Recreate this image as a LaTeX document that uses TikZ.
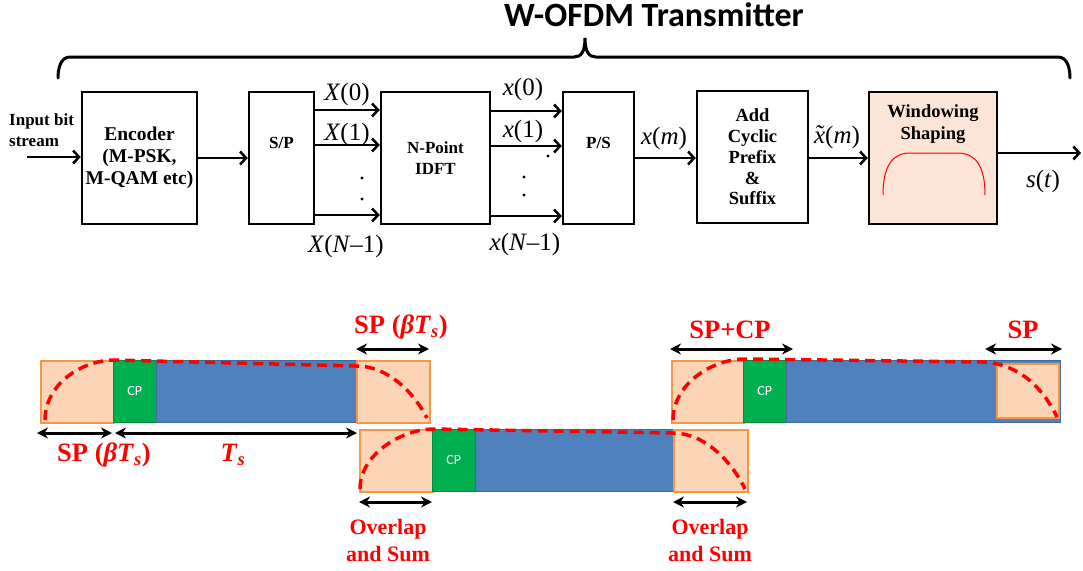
\documentclass[tikz,border=0pt]{standalone}
\usepackage{fontspec}
\setmainfont{Liberation Serif}[BoldFont={Liberation Serif Bold}, ItalicFont={Liberation Serif Italic}, BoldItalicFont={Liberation Serif Bold Italic}]
\newfontfamily\calfont{Carlito}[BoldFont={Carlito Bold}]
\usetikzlibrary{arrows.meta,calc}
\definecolor{peach}{RGB}{251,213,181}
\definecolor{winfill}{RGB}{252,228,214}
\definecolor{orangeb}{RGB}{247,150,70}
\definecolor{cpgreen}{RGB}{0,176,80}
\definecolor{sblue}{RGB}{79,129,189}
\definecolor{sblueb}{RGB}{65,105,155}
\definecolor{wred}{RGB}{255,0,0}
\newcommand\xtil{\ooalign{\textit{x}\cr\hidewidth\raisebox{0.02em}{\textit{\symbol{"02DC}}}\hidewidth\cr}}
\tikzset{
  blk/.style={draw=black, line width=2.5pt, minimum height=132pt, inner sep=0pt, align=center,
              font=\fontsize{17}{21}\selectfont\bfseries},
  btxt/.style={align=center, inner sep=0pt, font=\fontsize{17}{21}\selectfont\bfseries},
  arr/.style={line width=2.5pt, -{Straight Barb[length=6pt,width=13pt,line width=2.5pt]}},
  mlbl/.style={inner sep=0pt, font=\fontsize{25}{28}\selectfont},
  peachbox/.style={fill=peach, draw=orangeb, line width=1.5pt, inner sep=0pt},
  cpbox/.style={fill=cpgreen, draw=cpgreen!80!black, line width=0.6pt, inner sep=0pt,
                text=white, font=\calfont\fontsize{14}{16}\selectfont},
  bluebox/.style={fill=sblue, draw=sblueb, line width=0.8pt, inner sep=0pt},
  wdash/.style={draw=wred, line width=3.5pt, dash pattern=on 10pt off 6pt},
  dimarr/.style={line width=3pt, {Stealth[length=11pt,width=11pt]}-{Stealth[length=11pt,width=11pt]}},
  rlbl/.style={text=wred, inner sep=0pt, align=center, font=\fontsize{26.5}{28}\selectfont\bfseries},
  olbl/.style={text=wred, inner sep=0pt, align=center, font=\fontsize{22}{27}\selectfont\bfseries},
}
\begin{document}
\begin{tikzpicture}[x=1pt,y=-1pt]
\useasboundingbox (0,0) rectangle (1083,570);

% ---------- title and brace ----------
\node[inner sep=0pt, anchor=base, font=\calfont\fontsize{34}{36}\selectfont\bfseries] (title) at (654,27) {W-OFDM Transmitter};
\draw[line width=3pt, line cap=round] (58,78) to[out=90,in=180] (70,57) -- (574,57)
  .. controls (581,57) and (585,52) .. (585,38)
  .. controls (585,52) and (589,57) .. (596,57) -- (1058,57) to[out=0,in=90] (1070,78);

% ---------- blocks ----------
\node[blk, minimum width=115pt, font=\fontsize{19.5}{22}\selectfont\bfseries] (enc) at (139.5,158) {Encoder\\(M-PSK,\\M-QAM etc)};
\node[blk, minimum width=65pt] (sp) at (281.5,158) {};
\node[btxt] (sptxt) at (281.5,143) {S/P};
\node[blk, minimum width=109pt] (idft) at (435.5,158) {N-Point\\IDFT};
\node[blk, minimum width=71pt] (ps) at (598.5,158) {};
\node[btxt] (pstxt) at (598.5,143) {P/S};
\node[blk, minimum width=111pt, font=\fontsize{18.5}{20.8}\selectfont\bfseries] (acp) at (752.5,157) {Add\\Cyclic\\Prefix\\\&\\Suffix};
\node[blk, minimum width=128pt, fill=winfill] (win) at (933,158) {};
\node[btxt, font=\fontsize{18.5}{22}\selectfont\bfseries] (wintxt) at (933,124) {Windowing\\Shaping};
\draw[wred, line width=1pt] (883,195) .. controls (883,165) and (893,153) .. (910,153) -- (957,153)
  .. controls (975,153) and (985,165) .. (985,195);

% input
\node[btxt, align=left, anchor=west] (intxt) at (9,130) {Input bit\\stream};
\coordinate (in) at (27,157);
\draw[arr] (in) -- (enc.west |- in);
\draw[arr] (enc.east) -- (sp.west);

% S/P -> IDFT
\draw[arr] ($(sp.east)+(0,-48)$) -- ($(idft.west)+(0,-48)$);
\draw[arr] ($(sp.east)+(0,-13)$) -- ($(idft.west)+(0,-13)$);
\draw[arr] ($(sp.east)+(0,57)$) -- ($(idft.west)+(0,57)$);
\fill (362,178) circle (1.6) (362,199) circle (1.6);
\node[mlbl] (X0) at (347,94) {\textit{X}(0)};
\node[mlbl] (X1) at (347,134) {\textit{X}(1)};
\node[mlbl] (XN) at (346,246) {\textit{X}(\textit{N}–1)};

% IDFT -> P/S
\draw[arr] ($(idft.east)+(0,-47)$) -- ($(ps.west)+(0,-47)$);
\draw[arr] ($(idft.east)+(0,-12)$) -- ($(ps.west)+(0,-12)$);
\draw[arr] ($(idft.east)+(0,58)$) -- ($(ps.west)+(0,58)$);
\fill (548,156) circle (1.6) (524,177) circle (1.6) (524,195) circle (1.6);
\node[mlbl] (x0) at (523,89) {\textit{x}(0)};
\node[mlbl] (x1) at (523,131) {\textit{x}(1)};
\node[mlbl] (xN) at (525,244) {\textit{x}(\textit{N}–1)};

% P/S -> AddCP -> Window -> out
\draw[arr] (ps.east) -- (acp.west |- ps.east);
\node[mlbl] (xm) at (664,138) {\textit{x}(\textit{m})};
\draw[arr] (acp.east |- win.west) -- (win.west);
\node[mlbl] (xtm) at (837,137) {\xtil(\textit{m})};
\coordinate (out) at (1081,153);
\draw[arr] (win.east |- out) -- (out);
\node[mlbl] (st) at (1043,181) {\textit{s}(\textit{t})};

% ---------- bottom: symbol timeline ----------
% row 1
\node[peachbox, minimum width=73pt, minimum height=62pt, anchor=north west] (p1a) at (40,360) {};
\node[cpbox, minimum width=43pt, minimum height=62pt, anchor=north west] (cp1) at (113,360) {CP};
\node[bluebox, minimum width=200pt, minimum height=62pt, anchor=north west] (b1) at (156,360) {};
\node[peachbox, minimum width=73pt, minimum height=62pt, anchor=north west] (p1b) at (356,360) {};
\draw[wdash] (45,420) .. controls (45,385) and (80,361) .. (113,360) -- (356,366)
  .. controls (390,366) and (415,395) .. (427,418);

% row 2
\node[peachbox, minimum width=73pt, minimum height=62pt, anchor=north west] (p2a) at (359,429) {};
\node[cpbox, minimum width=43pt, minimum height=62pt, anchor=north west] (cp2) at (432,429) {CP};
\node[bluebox, minimum width=198pt, minimum height=62pt, anchor=north west] (b2) at (475,429) {};
\node[peachbox, minimum width=74pt, minimum height=62pt, anchor=north west] (p2b) at (673,429) {};
\draw[wdash] (360,489) .. controls (360,455) and (400,430) .. (432,429) -- (673,433)
  .. controls (705,433) and (732,462) .. (745,489);

% row 3
\node[peachbox, minimum width=72pt, minimum height=62pt, anchor=north west] (p3a) at (671,360) {};
\node[cpbox, minimum width=43pt, minimum height=62pt, anchor=north west] (cp3) at (743,360) {CP};
\node[bluebox, minimum width=274pt, minimum height=62pt, anchor=north west] (b3) at (786,360) {};
\node[peachbox, minimum width=62pt, minimum height=54pt, anchor=north west] (p3b) at (996,363) {};
\draw[wdash] (673,420) .. controls (673,385) and (710,360) .. (743,359) -- (983,362)
  .. controls (1022,364) and (1045,392) .. (1057,417);

% dimension arrows and labels
\coordinate (d1a) at (356,349); \coordinate (d1b) at (429,349);
\draw[dimarr] (d1a) -- (d1b);
\node[rlbl] (l1) at (401,327) {SP (\textit{βT}\textsubscript{\textit{s}})};

\coordinate (d2a) at (37,433); \coordinate (d2b) at (112,433);
\coordinate (d3a) at (115,433); \coordinate (d3b) at (357,433);
\draw[dimarr] (d2a) -- (d2b);
\draw[dimarr] (d3a) -- (d3b);
\node[rlbl] (l2) at (104,455) {SP (\textit{βT}\textsubscript{\textit{s}})};
\node[rlbl] (l3) at (233,455) {\textit{T}\textsubscript{\textit{s}}};

\coordinate (d4a) at (359,502); \coordinate (d4b) at (432,502);
\coordinate (d5a) at (673,502); \coordinate (d5b) at (747,502);
\draw[dimarr] (d4a) -- (d4b);
\draw[dimarr] (d5a) -- (d5b);
\node[olbl] (o1) at (388,540) {Overlap\\and Sum};
\node[olbl] (o2) at (710,540) {Overlap\\and Sum};

\coordinate (d6a) at (670,349); \coordinate (d6b) at (793,349);
\coordinate (d7a) at (985,349); \coordinate (d7b) at (1062,349);
\draw[dimarr] (d6a) -- (d6b);
\draw[dimarr] (d7a) -- (d7b);
\node[rlbl] (l4) at (730,330) {SP+CP};
\node[rlbl] (l5) at (1023,330) {SP};
\end{tikzpicture}
\end{document}
